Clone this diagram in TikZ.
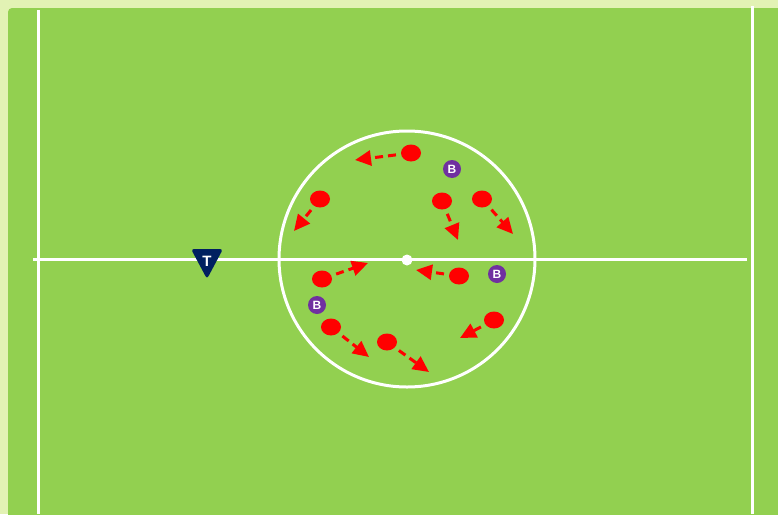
\documentclass[tikz,border=0pt]{standalone}
\usepackage{fontspec}
\setmainfont{Liberation Sans}
\usetikzlibrary{arrows.meta,shapes.geometric}
\definecolor{drillFrame}{HTML}{E2F2B4}
\definecolor{drillGrass}{HTML}{92D050}
\definecolor{drillRed}{HTML}{FF0000}
\definecolor{drillPurple}{HTML}{7030A0}
\definecolor{drillNavy}{HTML}{002060}
\begin{document}
\begin{tikzpicture}[
                x=1pt,y=-1pt,
                drillLine/.style={draw=white,line width=3pt},
                drillPlayer/.style={ellipse,fill=drillRed,draw=none,
                                    minimum width=20pt,minimum height=17pt,inner sep=0pt},
                drillBib/.style={circle,fill=drillPurple,text=white,
                                 font=\bfseries\fontsize{12}{12}\selectfont,
                                 minimum size=18pt,inner sep=0pt},
                drillRun/.style={draw=drillRed,line width=3pt,
                                 dash pattern=on 8pt off 5pt,shorten <=5pt,
                                 -{Triangle[length=16pt,width=15pt]}}]
                \useasboundingbox (0,0) rectangle (778,514);
                \fill[drillFrame] (0,0) rectangle (778,514);
                \fill[drillGrass,rounded corners=4pt] (8,8) rectangle (800,540);
                % pitch markings
                \draw[drillLine] (38,10) -- (38,514);
                \draw[drillLine] (752,6) -- (752,514);
                \draw[drillLine] (33,259) -- (747,259);
                \draw[drillLine] (407,259) circle (128);
                \fill[white] (407,260) circle (5.5);
                % players and their runs
                \foreach \p/\x/\y/\tx/\ty in {pA/411/153/355/160,
                                              pB/320/199/294/231,
                                              pC/442/201/458/240,
                                              pD/482/199/513/234,
                                              pE/322/279/368/263,
                                              pF/459/276/416/270,
                                              pG/494/320/460/338,
                                              pH/331/327/369/357,
                                              pI/387/342/429/372}{
                    \node[drillPlayer] (\p) at (\x,\y) {};
                    \coordinate (\p-to) at (\tx,\ty);
                    \draw[drillRun] (\p) -- (\p-to);
                }
                % bibs
                \node[drillBib] (bA) at (452,169) {B};
                \node[drillBib] (bB) at (497,274) {B};
                \node[drillBib] (bC) at (317,305) {B};
                % coach
                \fill[drillNavy,rounded corners=3pt] (191,249) -- (223,249) -- (207,279) -- cycle;
                \node[text=white,font=\bfseries\fontsize{15}{15}\selectfont] (coach) at (207,261) {T};
            \end{tikzpicture}
\end{document}
